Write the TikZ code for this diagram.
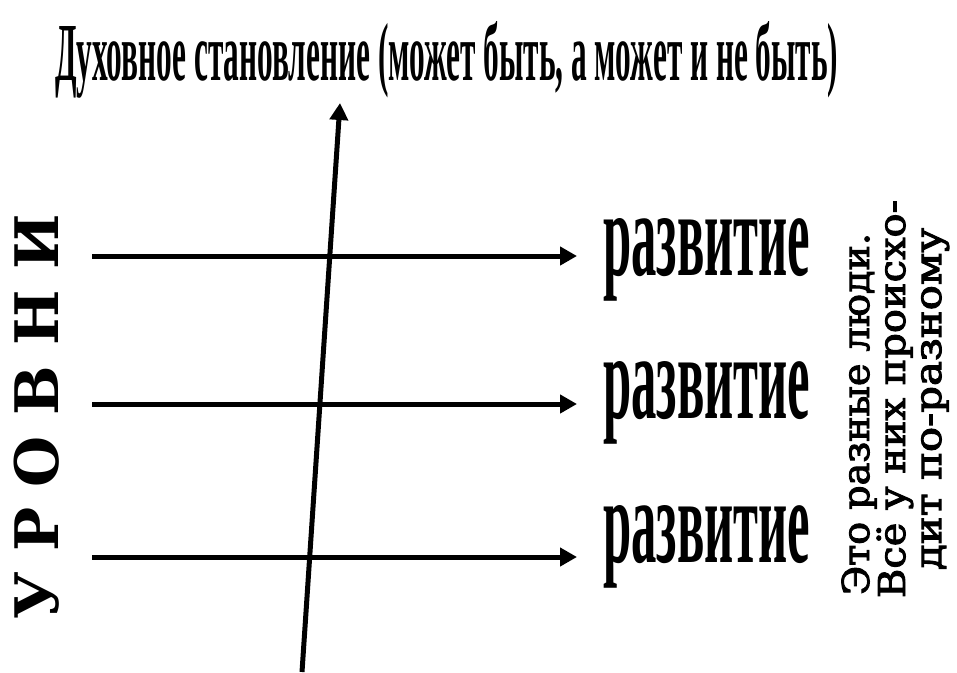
\documentclass[tikz,border=0pt]{standalone}
\usepackage{fontspec}
\setmainfont{Liberation Serif}
\newfontfamily\dvs{DejaVu Serif}
\newfontfamily\dvsfb[FakeBold=2.6]{DejaVu Serif}
\usetikzlibrary{arrows.meta}
\begin{document}
\begin{tikzpicture}[x=1pt,y=-1pt,
  arr/.style={line width=5pt,-{Triangle[length=17pt,width=18pt]}},
  dev/.style={inner sep=0pt, anchor=base west},
  vtext/.style={inner sep=0pt, rotate=90, anchor=base, font=\fontsize{37}{40}\selectfont\dvsfb}]
\useasboundingbox (0,0) rectangle (957,672);
% title
\node[dev] (title) at (55,80) {\resizebox{783pt}{59pt}{\bfseries Духовное становление (может быть, а может и не быть)}};
% development labels
\node[dev] (d1) at (603,275) {\resizebox{207pt}{57pt}{\bfseries развитие}};
\node[dev] (d2) at (603,418) {\resizebox{207pt}{57pt}{\bfseries развитие}};
\node[dev] (d3) at (603,562) {\resizebox{207pt}{57pt}{\bfseries развитие}};
% horizontal arrows
\coordinate (a1) at (92,256); \coordinate (b1) at (577,256);
\coordinate (a2) at (92,404); \coordinate (b2) at (577,404);
\coordinate (a3) at (92,557); \coordinate (b3) at (577,557);
\draw[arr] (a1) -- (b1);
\draw[arr] (a2) -- (b2);
\draw[arr] (a3) -- (b3);
% vertical arrow
\coordinate (vb) at (302,672); \coordinate (vt) at (340,103);
\draw[arr] (vb) -- (vt);
% left label
\node[inner sep=0pt, rotate=90, anchor=base, font=\fontsize{60}{60}\selectfont\dvs\bfseries] (lev) at (58,417) {\resizebox{405pt}{\height}{У Р О В Н И}};
% right label
\node[vtext] (n1) at (869,414) {\resizebox{362pt}{\height}{Это разные люди.}};
\node[vtext] (n2) at (905,399) {\resizebox{398pt}{\height}{Всё у них происхо-}};
\node[vtext] (n3) at (941,399) {\resizebox{342pt}{\height}{дит по-разному}};
\end{tikzpicture}
\end{document}
